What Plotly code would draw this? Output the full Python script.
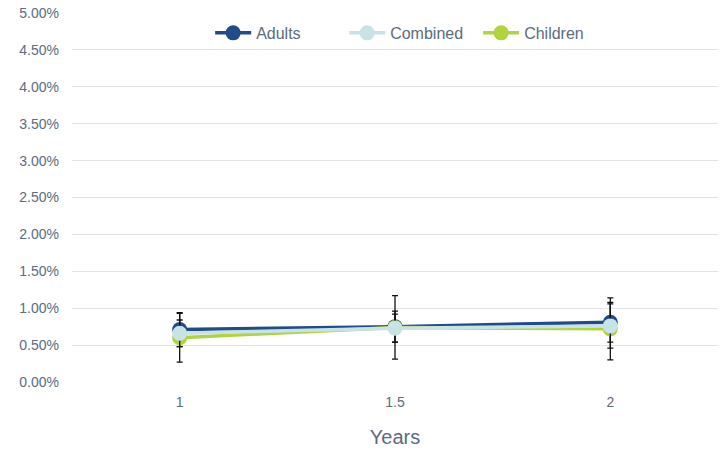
import plotly.graph_objects as go

years = [1, 1.5, 2]
adults = [0.0071, 0.0075, 0.0081]
adults_err = [0.0023, 0.0021, 0.0027]
combined = [0.0066, 0.0073, 0.0076]
combined_err = [0.0018, 0.0019, 0.0030]
children = [0.0060, 0.0074, 0.0072]
children_err = [0.0033, 0.0043, 0.0042]

y_ticks = [round(i * 0.005, 4) for i in range(11)]

colors = {"Adults": "#224b8a", "Combined": "#c8e3e6", "Children": "#b0d33e"}
text_color = "#5c6b7d"

fig = go.Figure()
series = [("Adults", adults, adults_err, 1), ("Children", children, children_err, 3), ("Combined", combined, combined_err, 2)]
for name, vals, err, rank in series:
    fig.add_trace(go.Scatter(
        x=years, y=vals, name=name, mode="lines+markers",
        line=dict(color=colors[name], width=3.5),
        marker=dict(color=colors[name], size=15),
        error_y=dict(type="data", array=err, visible=True, color="#111111", thickness=1.3, width=3),
        legendrank=rank,
    ))

fig.update_layout(
    width=726, height=453,
    margin=dict(l=72, r=8, t=13, b=71, autoexpand=False),
    plot_bgcolor="white", paper_bgcolor="white",
    font=dict(family="Liberation Sans, Arial, sans-serif", color=text_color, size=14),
    legend=dict(orientation="h", x=0.525, xanchor="center", y=0.946, yanchor="middle",
                font=dict(size=16, color=text_color), bgcolor="rgba(255,255,255,0)",
                itemwidth=36, entrywidth=83, entrywidthmode="pixels"),
    showlegend=True,
)
fig.update_xaxes(range=[0.75, 2.25], tickvals=years, ticktext=["1", "1.5", "2"],
                 showgrid=False, zeroline=False, showline=False, automargin=False,
                 ticklabelstandoff=10,
                 title=dict(text="Years", font=dict(size=20, color=text_color), standoff=20),
                 tickfont=dict(size=14, color=text_color))
fig.update_yaxes(range=[0, 0.05001], tickvals=y_ticks, tickformat=".2%",
                 showgrid=True, gridcolor="#e3e3e3", gridwidth=1, zeroline=False,
                 showline=False, automargin=False, ticklabelstandoff=12,
                 ticklabeloverflow="allow",
                 tickfont=dict(size=14, color=text_color), ticks="", ticklen=0)

fig.write_html("out.html", config={"displayModeBar": False},
               post_script="document.body.style.margin='0';")
